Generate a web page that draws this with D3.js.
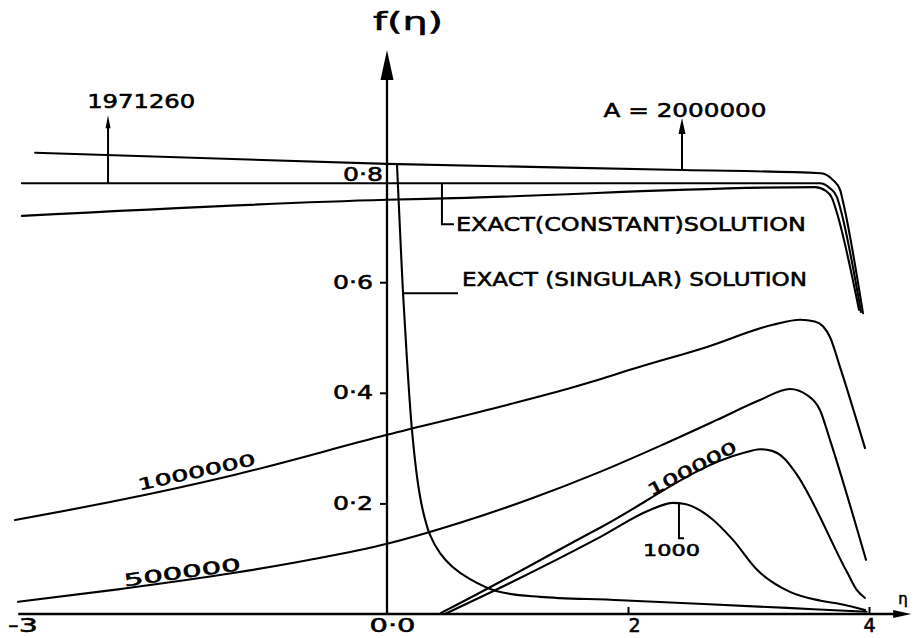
<!DOCTYPE html>
<html>
<head>
<meta charset="utf-8">
<script src="https://cdn.jsdelivr.net/npm/d3@7"></script>
<style>
  html, body { margin: 0; padding: 0; background: #fff; }
  svg { display: block; }
  text { font-family: "DejaVu Sans", sans-serif; fill: #000; stroke: #000; stroke-width: 0.55px; }
</style>
</head>
<body>
<svg id="chart" width="914" height="638"></svg>
<script>
// Profiles f(η) for several values of A, as [η, f] pairs.
const profileA2000000 = [[-2.92,0.834],[0,0.814],[2.45,0.803],[3.60,0.797],[3.70,0.785],[3.76,0.767],[3.79,0.740],[3.95,0.544]];
const profileA1971260 = [[-3.03,0.779],[3.59,0.779],[3.676,0.770],[3.734,0.754],[3.759,0.736],[3.934,0.546]];
const profileLowerBranch = [[-3.03,0.720],[0,0.749],[0.556,0.752],[3.552,0.772],[3.643,0.765],[3.693,0.752],[3.726,0.731],[3.917,0.550]];
const profileA1000000 = [[-3.087,0.170],[-2.216,0.206],[-1.278,0.251],[0,0.324],[0.996,0.378],[1.544,0.410],[2.100,0.447],[2.656,0.483],[3.203,0.523],[3.43,0.532],[3.55,0.529],[3.62,0.520],[3.676,0.501],[3.759,0.447],[3.967,0.300]];
const profileA500000 = [[-3.062,0.022],[-2.216,0.045],[-1.278,0.074],[-0.639,0.098],[0,0.127],[0.606,0.165],[1.187,0.208],[1.768,0.257],[2.266,0.304],[2.739,0.351],[3.095,0.387],[3.344,0.407],[3.485,0.396],[3.593,0.369],[3.676,0.315],[3.975,0.098]];
const profileA100000 = [[0.448,0.002],[0.556,0.014],[1.768,0.156],[2.954,0.291],[3.095,0.298],[3.195,0.295],[3.303,0.280],[3.386,0.257],[3.822,0.074],[3.90,0.043],[3.967,0.029]];
const profileA1000 = [[0.481,0.000],[0.888,0.042],[1.768,0.139],[2.183,0.188],[2.373,0.201],[2.473,0.199],[2.680,0.175],[2.871,0.134],[3.071,0.080],[3.344,0.040],[3.60,0.024],[3.76,0.018],[3.967,0.007]];
// Exact singular solution
const singularSolution = [[0.083,0.812],[0.108,0.694],[0.133,0.580],[0.166,0.459],[0.207,0.333],[0.257,0.236],[0.30,0.185],[0.357,0.143],[0.44,0.110],[0.54,0.086],[0.689,0.063],[0.913,0.041],[1.27,0.031],[1.94,0.025],[3.32,0.011],[3.98,0.004]];

// Axis ticks
const xTickValues = [-3, 0, 2, 4];
const xTickLabels = ["-3", "0·0", "2", "4"];
const yTickValues = [0.2, 0.4, 0.6, 0.8];
const yTickLabels = ["0·2", "0·4", "0·6", "0·8"];

// Parameter labels
const curveLabelTexts = ["1000000", "500000", "100000"];
const arrowLabelTexts = ["1971260", "A = 2000000"];
const solutionLabelTexts = ["EXACT(CONSTANT)SOLUTION", "EXACT (SINGULAR) SOLUTION"];

const svg = d3.select("#chart");
const x = d3.scaleLinear().domain([0, 4]).range([387, 869]);
const y = d3.scaleLinear().domain([0, 0.8]).range([614, 171.6]);

const INK = "#000";

// linear lookup of f at η along a profile
function fAt(profile, eta) {
  for (let i = 1; i < profile.length; i++) {
    const [e0, f0] = profile[i - 1], [e1, f1] = profile[i];
    if (eta >= e0 && eta <= e1) return f0 + (f1 - f0) * (eta - e0) / (e1 - e0);
  }
  return profile[profile.length - 1][1];
}
// η at which a decreasing profile reaches f
function etaAt(profile, f) {
  for (let i = 1; i < profile.length; i++) {
    const [e0, f0] = profile[i - 1], [e1, f1] = profile[i];
    if ((f - f0) * (f - f1) <= 0) return e0 + (e1 - e0) * (f - f0) / (f1 - f0);
  }
  return profile[0][0];
}

// ---- curves
const lineX = d3.line()
  .x(d => x(d[0]))
  .y(d => y(d[1]))
  .curve(d3.curveMonotoneX);
const lineSmooth = d3.line()
  .x(d => x(d[0]))
  .y(d => y(d[1]))
  .curve(d3.curveCatmullRom.alpha(0.5));

const profiles = [profileA2000000, profileA1971260, profileLowerBranch,
  profileA1000000, profileA500000, profileA100000, profileA1000];

const curveStyle = sel => sel
  .attr("fill", "none")
  .attr("stroke", INK)
  .attr("stroke-width", 2.1)
  .attr("stroke-linejoin", "round")
  .attr("stroke-linecap", "round");

svg.append("g")
  .selectAll("path")
  .data(profiles)
  .join("path")
  .attr("d", lineX)
  .call(curveStyle);

svg.append("path")
  .datum(singularSolution)
  .attr("d", lineSmooth)
  .call(curveStyle);

// ---- axes
const xAxis = d3.axisBottom(x)
  .tickValues(xTickValues)
  .tickFormat((d, i) => xTickLabels[i])
  .tickSizeInner(-7)
  .tickSizeOuter(0)
  .tickPadding(5);

const gx = svg.append("g")
  .attr("transform", `translate(0,${y(0)})`)
  .call(xAxis);
gx.select(".domain").remove();
gx.selectAll(".tick line").attr("stroke", INK).attr("stroke-width", 2);
gx.selectAll(".tick").filter(d => d <= 0).select("line").remove();
gx.selectAll(".tick text")
  .attr("fill", INK)
  .attr("font-size", 19)
  .attr("font-family", "DejaVu Sans, sans-serif")
  .attr("dx", d => d === 0 ? 5 : (d === 2 ? 6 : (d === -3 ? -3 : 0)))
  .attr("textLength", d => d === 0 ? 46 : (d === -3 ? 30 : null))
  .attr("lengthAdjust", "spacingAndGlyphs");

const yAxis = d3.axisLeft(y)
  .tickValues(yTickValues)
  .tickFormat((d, i) => yTickLabels[i])
  .tickSizeInner(7)
  .tickSizeOuter(0)
  .tickPadding(7);

const gy = svg.append("g")
  .attr("transform", `translate(${x(0)},0)`)
  .call(yAxis);
gy.select(".domain").remove();
gy.selectAll(".tick line").attr("stroke", INK).attr("stroke-width", 2);
gy.selectAll(".tick").filter(d => d >= 0.8).select("line").remove();
gy.selectAll(".tick text")
  .attr("fill", INK)
  .attr("font-size", 19)
  .attr("font-family", "DejaVu Sans, sans-serif")
  .attr("textLength", 40)
  .attr("lengthAdjust", "spacingAndGlyphs")
  .attr("dx", d => d >= 0.8 ? 10 : 0)
  .attr("dy", d => d >= 0.8 ? "0.45em" : "0.32em");

// axis lines with arrowheads
const xAxisEnds = [-3.06, 4.35];
const yAxisTop = 1.02;

svg.append("line")
  .attr("x1", x(xAxisEnds[0])).attr("x2", x(xAxisEnds[1]) - 8)
  .attr("y1", y(0)).attr("y2", y(0))
  .attr("stroke", INK).attr("stroke-width", 2.3);
svg.append("path")
  .attr("d", `M${x(xAxisEnds[1])},${y(0)} L${x(xAxisEnds[1]) - 18},${y(0) - 4} L${x(xAxisEnds[1]) - 18},${y(0) + 4} Z`)
  .attr("fill", INK);

svg.append("line")
  .attr("x1", x(0)).attr("x2", x(0))
  .attr("y1", y(0)).attr("y2", y(yAxisTop) + 10)
  .attr("stroke", INK).attr("stroke-width", 2.3);
svg.append("path")
  .attr("d", `M${x(0)},${y(yAxisTop)} L${x(0) - 6.5},${y(yAxisTop) + 30} L${x(0) + 6.5},${y(yAxisTop) + 30} Z`)
  .attr("fill", INK);

// axis titles
svg.append("text")
  .attr("x", x(0) + 21).attr("y", y(yAxisTop) - 20)
  .attr("text-anchor", "middle")
  .attr("font-size", 25)
  .attr("textLength", 70)
  .attr("lengthAdjust", "spacingAndGlyphs")
  .text("f(η)");
svg.append("text")
  .attr("x", x(xAxisEnds[1]) - 13).attr("y", y(0) - 10)
  .attr("font-size", 15)
  .text("η");

// ---- labels placed along their curves
const curveLabelSpecs = [
  { profile: profileA1000000, eta: -1.56, offset: 11, size: 16, length: 120 },
  { profile: profileA500000, eta: -1.69, offset: 8, size: 17, length: 118 },
  { profile: profileA100000, eta: 2.57, offset: 10, size: 16, length: 98 }
];
curveLabelSpecs.forEach((s, i) => {
  const px = x(s.eta), py = y(fAt(s.profile, s.eta));
  const ax = x(s.eta - 0.2), ay = y(fAt(s.profile, s.eta - 0.2));
  const bx = x(s.eta + 0.2), by = y(fAt(s.profile, s.eta + 0.2));
  const theta = Math.atan2(by - ay, bx - ax);
  const cx = px + Math.sin(theta) * s.offset;
  const cy = py - Math.cos(theta) * s.offset;
  svg.append("text")
    .attr("transform", `translate(${cx},${cy}) rotate(${theta * 180 / Math.PI})`)
    .attr("text-anchor", "middle")
    .attr("dy", "0.36em")
    .attr("font-size", s.size)
    .attr("textLength", s.length)
    .attr("lengthAdjust", "spacingAndGlyphs")
    .text(curveLabelTexts[i]);
});

// ---- arrow annotations pointing from a curve up to a label
const arrowSpecs = [
  { profile: profileA1971260, eta: -2.315, tip: 0.902, head: 13, half: 2.5, textEta: -2.04, size: 19, length: 108 },
  { profile: profileA2000000, eta: 2.448, tip: 0.897, head: 16, half: 3.5, textEta: 2.473, size: 20, length: 163 }
];
arrowSpecs.forEach((s, i) => {
  const ax = x(s.eta);
  const y0 = y(fAt(s.profile, s.eta));
  const yt = y(s.tip);
  svg.append("line")
    .attr("x1", ax).attr("x2", ax)
    .attr("y1", y0).attr("y2", yt + s.head - 2)
    .attr("stroke", INK).attr("stroke-width", 2);
  svg.append("path")
    .attr("d", `M${ax},${yt} L${ax - s.half},${yt + s.head} L${ax + s.half},${yt + s.head} Z`)
    .attr("fill", INK);
  svg.append("text")
    .attr("x", x(s.textEta)).attr("y", yt - 7 + (i === 1 ? 6 : 0))
    .attr("text-anchor", "middle")
    .attr("font-size", s.size)
    .attr("textLength", s.length)
    .attr("lengthAdjust", "spacingAndGlyphs")
    .text(arrowLabelTexts[i]);
});

// ---- exact solution leaders
const leaderStyle = sel => sel.attr("fill", "none").attr("stroke", INK).attr("stroke-width", 2);

// constant solution: down from the horizontal profile, then right
const cEta = 0.456, cTurnF = 0.705, cEndEta = 0.556;
svg.append("path")
  .attr("d", `M${x(cEta)},${y(fAt(profileA1971260, cEta))} L${x(cEta)},${y(cTurnF)} L${x(cEndEta)},${y(cTurnF)}`)
  .call(leaderStyle);
svg.append("text")
  .attr("x", x(cEndEta) + 2).attr("y", y(cTurnF) + 7)
  .attr("font-size", 20)
  .attr("textLength", 350)
  .attr("lengthAdjust", "spacingAndGlyphs")
  .text(solutionLabelTexts[0]);

// singular solution: right from the singular curve
const sF = 0.580, sEndEta = 0.589;
svg.append("path")
  .attr("d", `M${x(etaAt(singularSolution, sF))},${y(sF)} L${x(sEndEta)},${y(sF)}`)
  .call(leaderStyle);
svg.append("text")
  .attr("x", x(sEndEta) + 4).attr("y", y(sF) - 7)
  .attr("font-size", 20)
  .attr("textLength", 345)
  .attr("lengthAdjust", "spacingAndGlyphs")
  .text(solutionLabelTexts[1]);

// A = 1000: hook below the peak
const pEta = 2.423, pTurnF = 0.137, pEndEta = 2.465;
svg.append("path")
  .attr("d", `M${x(pEta)},${y(fAt(profileA1000, pEta))} L${x(pEta)},${y(pTurnF)} L${x(pEndEta)},${y(pTurnF)}`)
  .call(leaderStyle);
svg.append("text")
  .attr("x", x(pEta) - 36).attr("y", y(pTurnF) + 18)
  .attr("font-size", 15)
  .attr("textLength", 57)
  .attr("lengthAdjust", "spacingAndGlyphs")
  .text("1000");
</script>
</body>
</html>
